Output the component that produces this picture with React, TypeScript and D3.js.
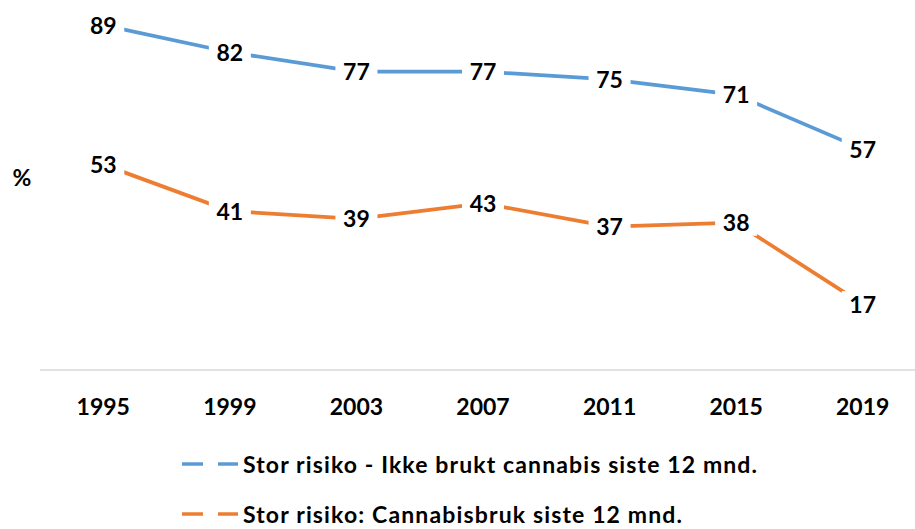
import React from "react";
import * as d3 from "d3";

const years = ["1995", "1999", "2003", "2007", "2011", "2015", "2019"];
const seriesNames = [
  "Stor risiko - Ikke brukt cannabis siste 12 mnd.",
  "Stor risiko: Cannabisbruk siste 12 mnd.",
];
const legendWidths = [514, 439];
const ikkeBrukt = [89, 82, 77, 77, 75, 71, 57];
const cannabisbruk = [53, 41, 39, 43, 37, 38, 17];
const colors = ["#5B9BD5", "#ED7D31"];

const W = 915;
const H = 529;
const FONT = "Lato, 'Open Sans', sans-serif";

export default function App() {
  const x = d3.scaleBand<string>().domain(years).range([40, 926]).padding(0);
  const cx = (y: string) => (x(y) as number) + x.bandwidth() / 2;
  const y = d3.scaleLinear().domain([0, 100]).range([370, -17.5]);
  const series = [ikkeBrukt, cannabisbruk];
  const line = d3
    .line<number>()
    .x((_, i) => cx(years[i]))
    .y((d) => y(d));

  return (
    <svg
      width={W}
      height={H}
      style={{ position: "absolute", left: 0, top: 0, display: "block", background: "#fff" }}
      fontFamily={FONT}
      fontWeight="bold"
    >
      <line x1={40} x2={915} y1={370} y2={370} stroke="#D9D9D9" strokeWidth={1.5} />
      <text x={22} y={186} fontSize={23} textAnchor="middle" fill="#000">
        %
      </text>
      {years.map((yr) => (
        <text key={yr} x={cx(yr)} y={415} fontSize={23} textAnchor="middle" fill="#000">
          {yr}
        </text>
      ))}
      {series.map((s, si) => (
        <path key={si} d={line(s) || ""} fill="none" stroke={colors[si]} strokeWidth={3.75} />
      ))}
      {series.map((s, si) =>
        s.map((v, i) => (
          <g key={`${si}-${i}`}>
            <rect
              x={cx(years[i]) - 21}
              y={y(v) - 13}
              width={42}
              height={26}
              fill="#fff"
            />
            <text
              x={cx(years[i])}
              y={y(v) + 8.5}
              fontSize={23}
              textAnchor="middle"
              fill="#000"
            >
              {v}
            </text>
          </g>
        ))
      )}
      {seriesNames.map((n, i) => {
        const ly = 464 + i * 50;
        return (
          <g key={n}>
            <line x1={182} x2={203} y1={ly} y2={ly} stroke={colors[i]} strokeWidth={3.5} />
            <line x1={218} x2={238} y1={ly} y2={ly} stroke={colors[i]} strokeWidth={3.5} />
            <text
              x={243}
              y={ly + 8.5}
              fontSize={23}
              fill="#000"
              textLength={legendWidths[i]}
              lengthAdjust="spacing"
            >
              {n}
            </text>
          </g>
        );
      })}
    </svg>
  );
}
